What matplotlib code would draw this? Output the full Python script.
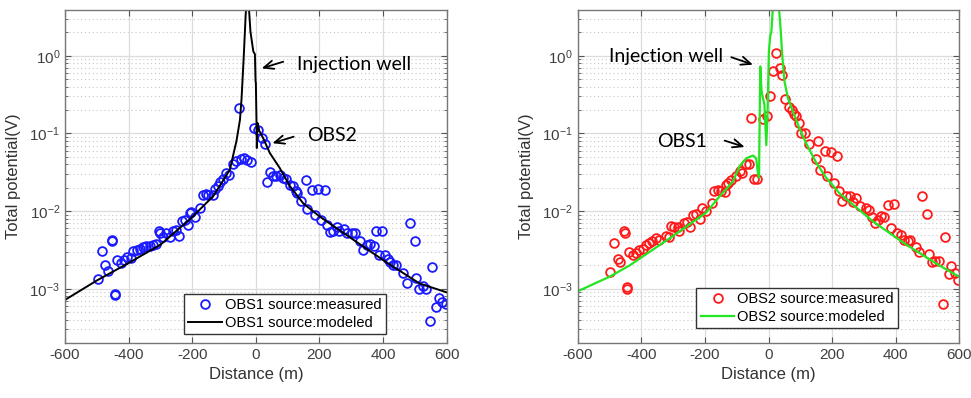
import numpy as np
import matplotlib.pyplot as plt

# OBS1 source, measured potentials (distance m, potential V)
obs1_x = [-497, -485, -474, -466, -453, -451, -443, -442, -436, -425, -415, -404, -394, -385,
          -375, -364, -354, -344, -334, -325, -315, -306, -303, -292, -282, -270, -259, -250,
          -241, -233, -222, -213, -207, -204, -192, -176, -166, -157, -150, -136, -129, -120,
          -113, -104, -94, -84, -71, -61, -52, -48, -38, -29, -14, -6, 7, 18, 28, 35, 44, 54,
          64, 75, 86, 96, 107, 117, 125, 130, 143, 157, 161, 178, 185, 196, 206, 217, 225,
          234, 244, 255, 262, 277, 287, 303, 313, 327, 337, 348, 358, 370, 377, 387, 398, 405,
          416, 423, 431, 440, 463, 475, 486, 499, 505, 513, 525, 536, 547, 555, 565, 576, 586, 599]
obs1_y = [1.33e-3, 3.1e-3, 2.0e-3, 1.72e-3, 4.3e-3, 4.1e-3, 8.2e-4, 8.6e-4, 2.35e-3, 2.15e-3,
          2.35e-3, 2.6e-3, 2.5e-3, 3.1e-3, 3.2e-3, 3.3e-3, 3.5e-3, 3.6e-3, 3.6e-3, 3.7e-3,
          3.8e-3, 5.5e-3, 5.3e-3, 4.6e-3, 5.3e-3, 4.6e-3, 5.5e-3, 5.8e-3, 4.8e-3, 7.4e-3,
          7.6e-3, 6.6e-3, 9.4e-3, 9.8e-3, 8.5e-3, 1.1e-2, 1.6e-2, 1.65e-2, 1.6e-2, 1.6e-2,
          1.95e-2, 2.1e-2, 2.4e-2, 2.6e-2, 3.1e-2, 2.9e-2, 4.1e-2, 4.4e-2, 0.216, 4.7e-2,
          4.8e-2, 4.6e-2, 4.3e-2, 0.117, 0.11, 0.087, 0.074, 0.024, 0.032, 0.028, 0.028, 0.029,
          0.027, 0.026, 0.022, 0.021, 0.018, 0.017, 0.0137, 0.025, 0.0106, 0.019, 0.0089,
          0.0195, 0.0077, 0.019, 0.0067, 0.0054, 0.0056, 0.0062, 0.0055, 0.0059, 0.0053,
          0.0052, 0.0052, 0.0041, 0.0032, 0.0037, 0.0038, 0.0036, 0.0055, 0.0027, 0.0056,
          0.0027, 0.0024, 0.0022, 0.002, 0.002, 0.0016, 0.0012, 0.007, 0.0041, 0.00138,
          0.00098, 0.0011, 0.00098, 0.00038, 0.0019, 0.00058, 0.00076, 0.00068, 0.00063]

# OBS1 source, modeled curve
mod1_x = [-600, -500, -400, -300, -204, -134, -108, -82, -61, -50, -45, -38, -32, -29,
          -21, -17, -8, -3, -1, 0, 2, 3, 5, 10, 23, 44, 75, 107, 149, 201, 306, 410, 515, 600]
mod1_y = [7.2e-4, 1.28e-3, 2.15e-3, 3.7e-3, 8.1e-3, 0.0156, 0.023, 0.034, 0.08, 0.15, 0.28,
          1.0, 3.4, 5.0, 3.7, 2.05, 1.14, 1.05, 0.47, 0.45, 0.14, 0.065, 0.137, 0.11, 0.087,
          0.056, 0.036, 0.021, 0.0126, 8.5e-3, 4.3e-3, 2.2e-3, 1.17e-3, 9e-4]

# OBS2 source, measured potentials
obs2_x = [-497, -486, -473, -466, -455, -452, -445, -444, -439, -426, -416, -407, -396, -386,
          -376, -366, -355, -345, -324, -314, -308, -296, -286, -281, -266, -257, -246, -236,
          -228, -215, -208, -196, -177, -170, -160, -150, -137, -133, -128, -118, -101, -91,
          -83, -72, -63, -54, -47, -37, -16, -5, 3, 14, 24, 35, 43, 53, 64, 74, 79, 87, 97,
          103, 116, 127, 148, 155, 163, 176, 183, 195, 207, 215, 221, 231, 242, 257, 265, 275,
          288, 305, 315, 326, 336, 343, 354, 364, 375, 385, 396, 404, 417, 427, 437, 444, 464,
          474, 482, 497, 504, 514, 524, 535, 548, 556, 566, 574, 587, 595]
obs2_y = [1.67e-3, 3.9e-3, 2.45e-3, 2.2e-3, 5.5e-3, 5.3e-3, 1.07e-3, 1.0e-3, 3.0e-3, 2.7e-3,
          2.9e-3, 3.2e-3, 3.3e-3, 3.7e-3, 3.9e-3, 4.1e-3, 4.5e-3, 4.3e-3, 4.8e-3, 4.6e-3,
          6.5e-3, 6.2e-3, 6.3e-3, 5.5e-3, 7.0e-3, 7.2e-3, 6.2e-3, 9.0e-3, 9.3e-3, 7.9e-3,
          1.1e-2, 1.0e-2, 1.27e-2, 1.8e-2, 1.85e-2, 1.8e-2, 1.75e-2, 2.2e-2, 2.3e-2, 2.5e-2,
          2.85e-2, 3.3e-2, 3.1e-2, 4.0e-2, 4.0e-2, 0.158, 2.6e-2, 2.6e-2, 0.153, 0.166, 0.30,
          0.63, 1.08, 0.69, 0.57, 0.28, 0.22, 0.20, 0.18, 0.166, 0.136, 0.10, 0.10, 0.074,
          0.047, 0.080, 0.034, 0.059, 0.028, 0.057, 0.023, 0.051, 0.018, 0.0137, 0.0155,
          0.0155, 0.0133, 0.0146, 0.0117, 0.011, 0.0105, 0.0085, 0.007, 0.0078, 0.0087,
          0.0085, 0.012, 0.006, 0.0123, 0.0053, 0.0049, 0.0043, 0.0041, 0.0043, 0.0035,
          0.003, 0.0155, 0.0093, 0.0028, 0.0022, 0.0023, 0.0023, 0.00063, 0.0046, 0.00156,
          0.00195, 0.0016, 0.0013]

# OBS2 source, modeled curve
mod2_x = [-600, -497, -437, -300, -196, -154, -112, -91, -70, -49, -39, -34, -30, -26, -22,
          -13, -7, -3, 1, 5, 9, 14, 32, 37, 43, 50, 61, 77, 97, 118, 150, 181, 223, 328, 433,
          537, 598]
mod2_y = [9.3e-4, 1.45e-3, 2.0e-3, 4.8e-3, 9.6e-3, 0.0155, 0.024, 0.038, 0.048, 0.052,
          0.048, 0.032, 0.027, 0.73, 0.35, 0.234, 0.071, 0.19, 1.13, 1.77, 2.06, 4.5, 4.5,
          2.5, 1.03, 0.47, 0.285, 0.19, 0.117, 0.075, 0.042, 0.027, 0.017, 7.4e-3, 3.7e-3,
          2.0e-3, 1.44e-3]

plt.rcParams['font.family'] = ['Liberation Sans', 'DejaVu Sans']
plt.rcParams['axes.unicode_minus'] = False

fig = plt.figure(figsize=(9.71, 3.98), dpi=100)
ax1 = fig.add_axes([0.067, 0.138, 0.393, 0.837])
ax2 = fig.add_axes([0.595, 0.138, 0.393, 0.837])

ann_font = dict(family=['Lato', 'DejaVu Sans'], fontsize=14, color='black')
arrow = dict(arrowstyle='->,head_length=0.7,head_width=0.3', lw=1.3, color='black',
             shrinkA=0, shrinkB=0)


def style_axes(ax):
    ax.set_yscale('log')
    ax.set_xlim(-600, 600)
    ax.set_ylim(2e-4, 3.9)
    ax.set_xticks(np.arange(-600, 601, 200))
    ax.set_yticks([1e-3, 1e-2, 1e-1, 1e0])
    ax.grid(True, which='major', color='#dcdcdc', lw=0.9, ls='-')
    ax.grid(True, which='minor', axis='y', color='#c8c8c8', lw=0.8, ls=(0, (1, 2.5)))
    ax.set_axisbelow(True)
    ax.tick_params(which='both', direction='in', top=True, right=True,
                   colors='#555555', labelcolor='#404040', labelsize=11)
    ax.tick_params(which='major', length=4)
    ax.tick_params(which='minor', length=2)
    for sp in ax.spines.values():
        sp.set_color('#777777')
        sp.set_linewidth(1.0)
    ax.set_xlabel('Distance (m)', fontsize=12, color='#333333', labelpad=4)
    ax.set_ylabel('Total potential(V)', fontsize=12, color='#333333', labelpad=6)


# left panel: OBS1 as source
ax1.plot(obs1_x, obs1_y, 'o', mfc='none', mec='#1a1aff', ms=6.3, mew=1.3,
         label='OBS1 source:measured')
ax1.plot(mod1_x, mod1_y, color='black', lw=1.4, label='OBS1 source:modeled')
style_axes(ax1)
ax1.annotate('', xy=(18, 0.69), xytext=(86, 0.84), arrowprops=arrow)
ax1.text(128, 0.77, 'Injection well', ha='left', va='center', **ann_font)
ax1.annotate('', xy=(52, 0.075), xytext=(119, 0.091), arrowprops=arrow)
ax1.text(160, 0.093, 'OBS2', ha='left', va='center', **ann_font)
ax1.legend(loc='lower right', bbox_to_anchor=(0.84, 0.027), fontsize=10.5,
           fancybox=False, edgecolor='#333333', framealpha=1, borderpad=0.3,
           handlelength=2.3, handletextpad=0.2, labelspacing=0.25, borderaxespad=0)

# right panel: OBS2 as source
ax2.plot(obs2_x, obs2_y, 'o', mfc='none', mec='#ff1a1a', ms=6.3, mew=1.3,
         label='OBS2 source:measured')
ax2.plot(mod2_x, mod2_y, color='#22e622', lw=1.6, label='OBS2 source:modeled')
style_axes(ax2)
ax2.annotate('', xy=(-49, 0.77), xytext=(-117, 0.96), arrowprops=arrow)
ax2.text(-143, 0.97, 'Injection well', ha='right', va='center', **ann_font)
ax2.annotate('', xy=(-75, 0.067), xytext=(-138, 0.081), arrowprops=arrow)
ax2.text(-193, 0.078, 'OBS1', ha='right', va='center', **ann_font)
ax2.legend(loc='lower right', bbox_to_anchor=(0.84, 0.045), fontsize=10.5,
           fancybox=False, edgecolor='#333333', framealpha=1, borderpad=0.3,
           handlelength=2.3, handletextpad=0.2, labelspacing=0.25, borderaxespad=0)

fig.savefig('out.png', dpi=100)
